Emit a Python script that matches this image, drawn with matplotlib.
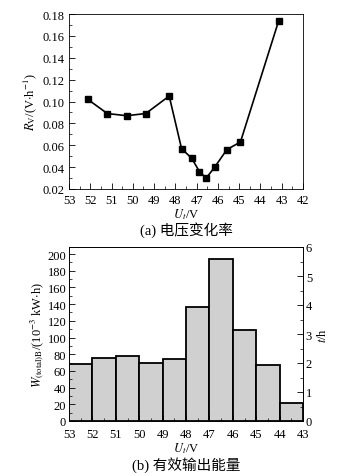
import matplotlib.pyplot as plt
from matplotlib.ticker import MultipleLocator

plt.rcParams['font.family'] = ['Liberation Serif', 'Noto Sans CJK SC']
plt.rcParams['mathtext.fontset'] = 'stix'
plt.rcParams['font.size'] = 9

# (a) voltage change rate
u_a = [52.12, 51.2, 50.29, 49.39, 48.29, 47.71, 47.23, 46.87, 46.55, 46.15, 45.58, 44.94, 43.14]
rv = [0.102, 0.089, 0.087, 0.089, 0.105, 0.057, 0.048, 0.036, 0.030, 0.040, 0.056, 0.063, 0.174]

# (b) effective output energy, bins of 1 V from 53 down to 43
bin_left = [53, 52, 51, 50, 49, 48, 47, 46, 45, 44]
w_total = [68, 75, 78, 69, 74, 136, 194, 109, 67, 22]

fig = plt.figure(figsize=(3.43, 4.77), dpi=100)
W, H = 343, 477

ax1 = fig.add_axes([69 / W, 1 - 190 / H, 234 / W, 175 / H])
ax1.plot(u_a, rv, color='black', lw=1.2, marker='s', ms=4.5, mfc='black', mec='black')
ax1.set_xlim(53, 42)
ax1.set_ylim(0.02, 0.18)
ax1.xaxis.set_major_locator(MultipleLocator(1))
ax1.xaxis.set_minor_locator(MultipleLocator(0.5))
ax1.yaxis.set_major_locator(MultipleLocator(0.02))
ax1.yaxis.set_minor_locator(MultipleLocator(0.01))
ax1.yaxis.set_major_formatter(plt.FuncFormatter(lambda v, p: f'{v:.2f}'))
ax1.tick_params(which='both', direction='in', top=False, right=False)
ax1.tick_params(which='major', length=4, width=0.6)
ax1.tick_params(which='minor', length=2, width=0.5)
ax1.set_xlabel('$U_t$/V', labelpad=0)
ax1.set_ylabel(r'$R_\mathrm{V}$/(V$\cdot$h$^{-1}$)', labelpad=2)
fig.text(186 / W, 1 - 230 / H, '(a) 电压变化率', ha='center', va='center', fontsize=10.5)

ax2 = fig.add_axes([69 / W, 1 - 422 / H, 234 / W, 174 / H])
ax2.bar(bin_left, w_total, width=-1, align='edge', color='#d0d0d0',
        edgecolor='black', linewidth=1.3)
ax2.set_xlim(53, 43)
ax2.set_ylim(0, 208.4)
ax2.xaxis.set_major_locator(MultipleLocator(1))
ax2.xaxis.set_minor_locator(MultipleLocator(0.5))
ax2.yaxis.set_major_locator(MultipleLocator(20))
ax2.yaxis.set_minor_locator(MultipleLocator(10))
ax2.tick_params(which='both', direction='in', top=False, right=False)
ax2.tick_params(which='major', length=4, width=0.6)
ax2.tick_params(axis='y', pad=2)
ax2.tick_params(axis='x', pad=5)
ax2.tick_params(which='minor', length=2, width=0.5)
ax2.set_xlabel('$U_t$/V', labelpad=0)
ax2.set_ylabel(r'$W_{\mathrm{(total)B}}$/(10$^{-3}$ kW$\cdot$h)', labelpad=1)

ax3 = ax2.twinx()
ax3.set_ylim(0, 6)
ax3.yaxis.set_major_locator(MultipleLocator(1))
ax3.yaxis.set_minor_locator(MultipleLocator(0.5))
ax3.tick_params(which='both', direction='in')
ax3.tick_params(which='major', length=4, width=0.6, pad=2)
ax3.tick_params(which='minor', length=2, width=0.5)
ax3.set_ylabel('$t$/h', labelpad=3)
fig.text(186 / W, 1 - 465 / H, '(b) 有效输出能量', ha='center', va='center', fontsize=10.5)

for ax in (ax1, ax2, ax3):
    for s in ax.spines.values():
        s.set_linewidth(0.6)

fig.savefig('out.png', dpi=100)
